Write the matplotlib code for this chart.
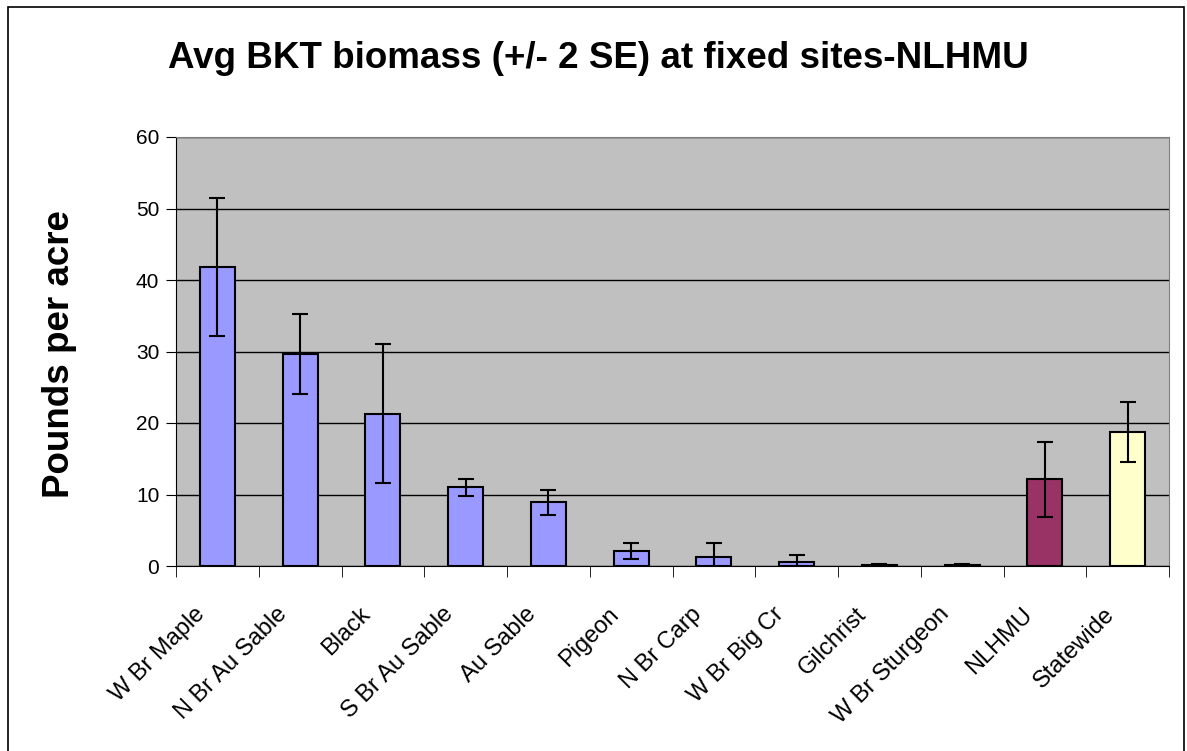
import numpy as np
import matplotlib.pyplot as plt
from matplotlib.patches import Rectangle
from matplotlib.transforms import ScaledTranslation

plt.rcParams['font.family'] = ['Liberation Sans', 'DejaVu Sans']

sites = ["W Br Maple", "N Br Au Sable", "Black", "S Br Au Sable", "Au Sable",
         "Pigeon", "N Br Carp", "W Br Big Cr", "Gilchrist", "W Br Sturgeon",
         "NLHMU", "Statewide"]
biomass = [41.8, 29.7, 21.3, 11.0, 8.9, 2.1, 1.3, 0.5, 0.1, 0.1, 12.1, 18.7]
two_se = [9.7, 5.6, 9.7, 1.2, 1.75, 1.1, 1.9, 1.05, 0.12, 0.12, 5.3, 4.2]
colors = ["#9999FF"] * 10 + ["#993366", "#FFFFCC"]

fig = plt.figure(figsize=(11.87, 7.51), dpi=100)
ax = fig.add_axes([176 / 1187, 185 / 751, 993 / 1187, 429 / 751])
ax.set_facecolor("#C0C0C0")

x = np.arange(len(sites))
ax.bar(x, biomass, width=0.42, color=colors, edgecolor="black", linewidth=1.5, zorder=3)
ax.errorbar(x, biomass, yerr=two_se, fmt="none", ecolor="black", elinewidth=1.5,
            capsize=6, capthick=1.5, zorder=4)

ax.set_xlim(-0.5, len(sites) - 0.5)
ax.set_ylim(0, 60)
ax.set_yticks(range(0, 61, 10))
ax.yaxis.grid(True, color="black", linewidth=1)
ax.set_axisbelow(True)
ax.tick_params(axis="y", labelsize=15, length=7, direction="out", pad=5)

# category labels under bars, tick marks between categories
ax.set_xticks(x)
ax.set_xticklabels(sites, rotation=45, ha="right", va="center", rotation_mode="anchor")
ax.set_xticks(np.arange(-0.5, len(sites)), minor=True)
ax.tick_params(axis="x", which="major", length=0, labelsize=17, pad=0)
ax.tick_params(axis="x", which="minor", length=8, direction="out")
shift = ScaledTranslation(-0.16, -0.45, fig.dpi_scale_trans)
for lbl in ax.get_xticklabels():
    lbl.set_transform(lbl.get_transform() + shift)

for side in ["top", "right"]:
    ax.spines[side].set_color("#808080")
ax.spines["left"].set_color("black")
ax.spines["bottom"].set_color("black")

ax.set_ylabel("Pounds per acre", fontsize=26.5, fontweight="bold")
ax.yaxis.set_label_coords(-0.1, 0.495)
fig.text(598 / 1187, 1 - 59 / 751, "Avg BKT biomass (+/- 2 SE) at fixed sites-NLHMU",
         ha="center", va="center", fontsize=26.5, fontweight="bold")

fig.add_artist(Rectangle((8 / 1187, -0.1), 1176 / 1187, 1.1 - 7 / 751,
                         transform=fig.transFigure, fill=False,
                         edgecolor="black", linewidth=1.2))

fig.savefig("out.png", dpi=100)
